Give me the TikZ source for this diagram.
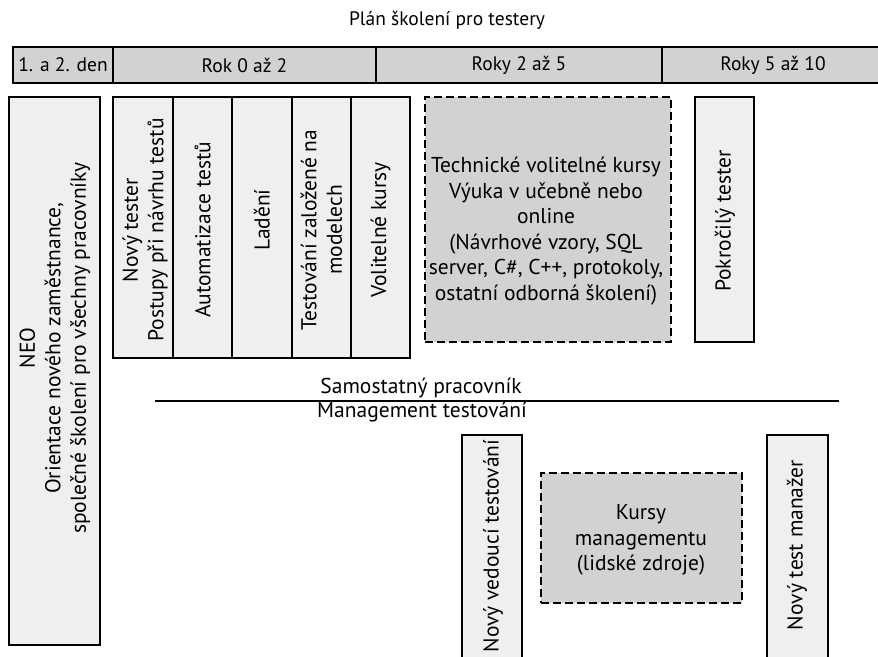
\documentclass[tikz,border=0pt]{standalone}
\usepackage{fontspec}
\setmainfont{PT Sans}
\definecolor{hdrgray}{HTML}{D2D2D2}
\definecolor{boxgray}{HTML}{EFEFEF}
\newcommand{\bigtxt}{\fontsize{21.5}{25.5}\selectfont}
\newcommand{\smtxt}{\fontsize{19.5}{23}\selectfont}
\tikzset{
  hdr/.style={draw, line width=1.6pt, fill=hdrgray, inner sep=0pt, font=\smtxt},
  stbox/.style={draw, line width=1.6pt, fill=boxgray, inner sep=0pt},
  dbox/.style={draw, line width=1.6pt, dash pattern=on 8pt off 4pt, fill=hdrgray, inner sep=0pt},
  vtxt/.style={rotate=90, align=center, inner sep=0pt, font=\bigtxt},
  txt/.style={align=center, inner sep=0pt, font=\bigtxt},
}
\begin{document}
\begin{tikzpicture}[x=1pt,y=-1pt]
\clip (0,0) rectangle (878,656);
% title
\node[txt, font=\smtxt] (title) at (447,20) {Plán školení pro testery};
% header
\node[hdr, minimum width=100pt, minimum height=36pt] (h1) at (63,65) {1. a 2. den};
\node[hdr, minimum width=263pt, minimum height=36pt] (h2) at (244.5,65) {Rok 0 až 2};
\node[hdr, minimum width=286pt, minimum height=36pt] (h3) at (519,65) {Roky 2 až 5};
\node[hdr, minimum width=222pt, minimum height=36pt] (h4) at (773,65) {Roky 5 až 10};
% NEO
\node[stbox, minimum width=91pt, minimum height=548pt] (neo) at (54.5,371) {};
\node[vtxt] (neot) at (55,348) {NEO\\Orientace nového zaměstnance,\\společné školení pro všechny pracovníky};
% row of boxes
\node[stbox, minimum width=60pt, minimum height=261pt] (b1) at (143,227.5) {};
\node[stbox, minimum width=59pt, minimum height=261pt] (b2) at (202.5,227.5) {};
\node[stbox, minimum width=60pt, minimum height=261pt] (b3) at (262,227.5) {};
\node[stbox, minimum width=59pt, minimum height=261pt] (b4) at (321.5,227.5) {};
\node[stbox, minimum width=59pt, minimum height=261pt] (b5) at (380.5,227.5) {};
\node[vtxt] (b1t) at (145,230) {Nový tester\\Postupy při návrhu testů};
\node[vtxt] (b2t) at (202.5,230) {Automatizace testů};
\node[vtxt] (b3t) at (262,220) {Ladění};
\node[vtxt] (b4t) at (321.5,230) {Testování založené na\\modelech};
\node[vtxt] (b5t) at (380.5,230) {Volitelné kursy};
% technical
\node[dbox, minimum width=246pt, minimum height=245pt] (tech) at (548,219.5) {};
\node[txt] (techt) at (546,231) {Technické volitelné kursy\\Výuka v učebně nebo\\online\\(Návrhové vzory, SQL\\server, C\#, C++, protokoly,\\ostatní odborná školení)};
\node[stbox, minimum width=59pt, minimum height=245pt] (pok) at (724.5,219.5) {};
\node[vtxt] (pokt) at (725,221) {Pokročilý tester};
% divider line
\coordinate (lnL) at (155,401);
\coordinate (lnR) at (839,401);
\draw[line width=2pt] (lnL) -- (lnR);
\node[txt] (sam) at (421,388) {Samostatný pracovník};
\node[txt] (man) at (422,412) {Management testování};
% lower
\node[stbox, minimum width=60pt, minimum height=223pt] (nv) at (492,546.5) {};
\node[vtxt] (nvt) at (493,546) {Nový vedoucí testování};
\node[dbox, minimum width=201pt, minimum height=130pt] (kur) at (641.5,538) {};
\node[txt] (kurt) at (641,540) {Kursy\\managementu\\(lidské zdroje)};
\node[stbox, minimum width=61pt, minimum height=223pt] (nm) at (797.5,546.5) {};
\node[vtxt] (nmt) at (797,545) {Nový test manažer};
\end{tikzpicture}
\end{document}
